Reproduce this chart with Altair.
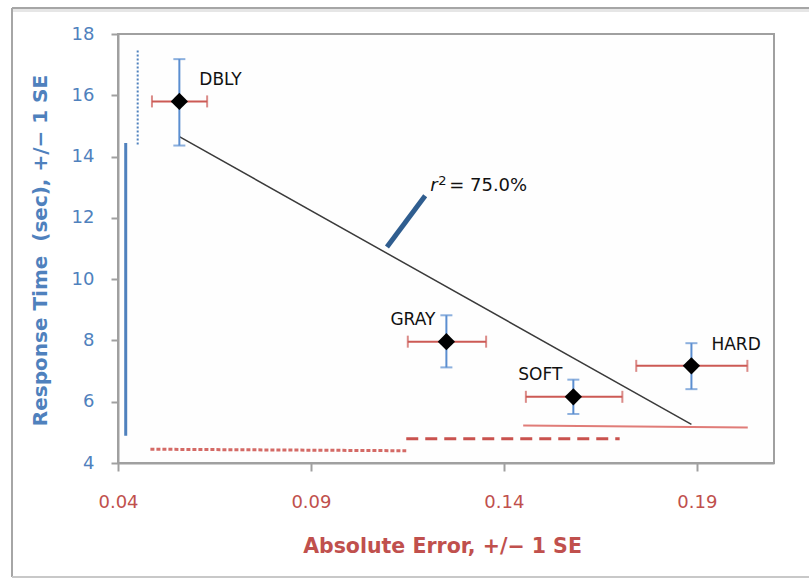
import altair as alt
import pandas as pd

# ---- data ----
names = ["DBLY", "GRAY", "SOFT", "HARD"]
abs_error = [0.0559, 0.1251, 0.1580, 0.1886]
resp_time = [15.80, 7.96, 6.16, 7.17]
time_lo = [14.36, 7.12, 5.60, 6.41]
time_hi = [17.18, 8.82, 6.72, 7.91]
err_lo = [0.0488, 0.1151, 0.1457, 0.1743]
err_hi = [0.0631, 0.1354, 0.1707, 0.2031]

x_ticks = [0.04, 0.09, 0.14, 0.19]
y_ticks = [4, 6, 8, 10, 12, 14, 16, 18]

# range guides drawn along the axes
blue_dot_x = [0.0451]
blue_dot_y = [14.39, 17.46]
blue_solid_x = [0.0420]
blue_solid_y = [4.89, 14.44]
red_dot_x = [0.0484, 0.1147]
red_dot_y = [4.45, 4.40]
red_dash_x = [0.1147, 0.1700]
red_dash_y = [4.79, 4.79]
red_solid_x = [0.1450, 0.2032]
red_solid_y = [5.22, 5.16]

# r-squared callout
callout_x = [0.1097, 0.1196]
callout_y = [11.05, 12.72]
r2_x = [0.1209]
r2_y = [13.05]
r2_text = ["r", "2", "= 75.0%"]

RED = "#C0504D"
BLUE = "#4F81BD"
GRAY = "#A0A0A0"
FONT = "DejaVu Sans"

df = pd.DataFrame({
    "name": names, "abs_error": abs_error, "resp_time": resp_time,
    "time_lo": time_lo, "time_hi": time_hi, "err_lo": err_lo, "err_hi": err_hi,
})

xs = alt.Scale(domain=[0.04, 0.21], nice=False, zero=False)
ys = alt.Scale(domain=[4, 18], nice=False, zero=False)

x_axis = alt.Axis(
    values=x_ticks, format=".2f", grid=False, labelFlush=False,
    labelColor=RED, labelFont=FONT, labelFontSize=18, labelPadding=22,
    tickSize=8, tickColor=GRAY, tickWidth=2, domainColor=GRAY, domainWidth=2,
    title="Absolute Error, +/\u2212 1 SE", titleColor=RED, titleFont=FONT,
    titleFontSize=20.5, titleFontWeight="bold", titleX=324, titleY=83,
    titleAlign="center", titleBaseline="middle",
)
y_axis = alt.Axis(
    values=y_ticks, grid=False, labelFlush=False,
    labelColor=BLUE, labelFont=FONT, labelFontSize=18, labelPadding=17,
    tickSize=7, tickColor=GRAY, tickWidth=2, domainColor=GRAY, domainWidth=2,
    title="Response Time\u00a0 (sec), +/\u2212 1 SE", titleColor=BLUE, titleFont=FONT,
    titleFontSize=20, titleFontWeight="bold", titleX=-78, titleY=216,
    titleAngle=-90, titleAlign="center", titleBaseline="middle",
)


def X(f):
    return alt.X(f, type="quantitative", scale=xs, axis=x_axis)


def Y(f):
    return alt.Y(f, type="quantitative", scale=ys, axis=y_axis)


def seg(xv, yv):
    return pd.DataFrame({"x1": [xv[0]], "x2": [xv[-1]], "y1": [yv[0]], "y2": [yv[-1]]})


def seg_layer(xv, yv, **kw):
    return alt.Chart(seg(xv, yv)).mark_rule(**kw).encode(
        x=X("x1"), x2="x2", y=Y("y1"), y2="y2")


# outer chart frame (decoration)
one = pd.DataFrame({"k": [0]})
frame_left = alt.Chart(one).mark_rule(color="#A6A6A6", strokeWidth=2).encode(
    x=alt.value(-106), y=alt.value(-26), y2=alt.value(543))
frame_top = alt.Chart(one).mark_rule(color="#A6A6A6", strokeWidth=2).encode(
    x=alt.value(-106), x2=alt.value(691), y=alt.value(-26))
frame_top2 = alt.Chart(one).mark_rule(color="#E6E6E6", strokeWidth=3).encode(
    x=alt.value(-105), x2=alt.value(691), y=alt.value(-23.5))
frame_bottom = alt.Chart(one).mark_rule(color="#C8C8C8", strokeWidth=2).encode(
    x=alt.value(-106), x2=alt.value(691), y=alt.value(543))

base = alt.Chart(df)

blue_dot = seg_layer(blue_dot_x, blue_dot_y, color=BLUE, strokeWidth=2, strokeDash=[2, 2])
blue_solid = seg_layer(blue_solid_x, blue_solid_y, color=BLUE, strokeWidth=3)
red_dot = seg_layer(red_dot_x, red_dot_y, color="#D46A66", strokeWidth=3, strokeDash=[4, 2])
red_dash = seg_layer(red_dash_x, red_dash_y, color="#C9524E", strokeWidth=3, strokeDash=[12, 7])
red_solid = seg_layer(red_solid_x, red_solid_y, color="#E07C78", strokeWidth=2)
callout = seg_layer(callout_x, callout_y, color="#2F5D8F", strokeWidth=5)

reg = base.transform_regression("abs_error", "resp_time").mark_line(
    color="#3A3A3A", strokeWidth=1.5).encode(x=X("abs_error"), y=Y("resp_time"))

red_bar = base.mark_rule(color="#CC5A55", strokeWidth=2).encode(
    x=X("err_lo"), x2="err_hi", y=Y("resp_time"))
red_cap_lo = base.mark_tick(orient="vertical", color="#CC5A55", size=12, thickness=2).encode(
    x=X("err_lo"), y=Y("resp_time"))
red_cap_hi = base.mark_tick(orient="vertical", color="#CC5A55", size=12, thickness=2).encode(
    x=X("err_hi"), y=Y("resp_time"))

blue_bar = base.mark_rule(color="#5B8ED0", strokeWidth=2).encode(
    x=X("abs_error"), y=Y("time_lo"), y2="time_hi")
blue_cap_lo = base.mark_tick(orient="horizontal", color="#5B8ED0", size=12, thickness=2).encode(
    x=X("abs_error"), y=Y("time_lo"))
blue_cap_hi = base.mark_tick(orient="horizontal", color="#5B8ED0", size=12, thickness=2).encode(
    x=X("abs_error"), y=Y("time_hi"))

points = base.mark_point(shape="diamond", filled=True, color="black", size=300, opacity=1).encode(
    x=X("abs_error"), y=Y("resp_time"))

labels_left = base.transform_filter(
    alt.FieldOneOfPredicate(field="name", oneOf=["DBLY", "HARD"])
).mark_text(align="left", baseline="middle", dx=20, dy=-21, font=FONT, fontSize=17,
            color="#111111").encode(x=X("abs_error"), y=Y("resp_time"), text="name:N")
labels_right = base.transform_filter(
    alt.FieldOneOfPredicate(field="name", oneOf=["GRAY", "SOFT"])
).mark_text(align="right", baseline="middle", dx=-11, dy=-22, font=FONT, fontSize=17,
            color="#111111").encode(x=X("abs_error"), y=Y("resp_time"), text="name:N")

r2df = pd.DataFrame({"x": r2_x, "y": r2_y})
r_txt = alt.Chart(r2df).mark_text(
    align="left", baseline="middle", font=FONT, fontSize=18, fontStyle="italic",
    color="#111111", text=r2_text[0]).encode(x=X("x"), y=Y("y"))
sup_txt = alt.Chart(r2df).mark_text(
    align="left", baseline="middle", font=FONT, fontSize=13, dx=8, dy=-5,
    color="#111111", text=r2_text[1]).encode(x=X("x"), y=Y("y"))
eq_txt = alt.Chart(r2df).mark_text(
    align="left", baseline="middle", font=FONT, fontSize=18, dx=19,
    color="#111111", text=r2_text[2]).encode(x=X("x"), y=Y("y"))

chart = alt.layer(
    blue_dot, blue_solid, red_dot, red_dash, red_solid,
    reg, callout,
    red_bar, red_cap_lo, red_cap_hi,
    blue_bar, blue_cap_lo, blue_cap_hi,
    points, labels_left, labels_right,
    r_txt, sup_txt, eq_txt,
    frame_left, frame_top2, frame_top, frame_bottom,
).properties(
    width=656, height=429,
    autosize=alt.AutoSizeParams(type="none"),
    padding={"left": 118, "top": 34, "right": 35, "bottom": 115},
    background="white",
).configure_view(
    stroke=GRAY, strokeWidth=2, fill="#FEFEFE",
)

chart.save("out.html", embed_options={"renderer": "svg", "actions": False})
